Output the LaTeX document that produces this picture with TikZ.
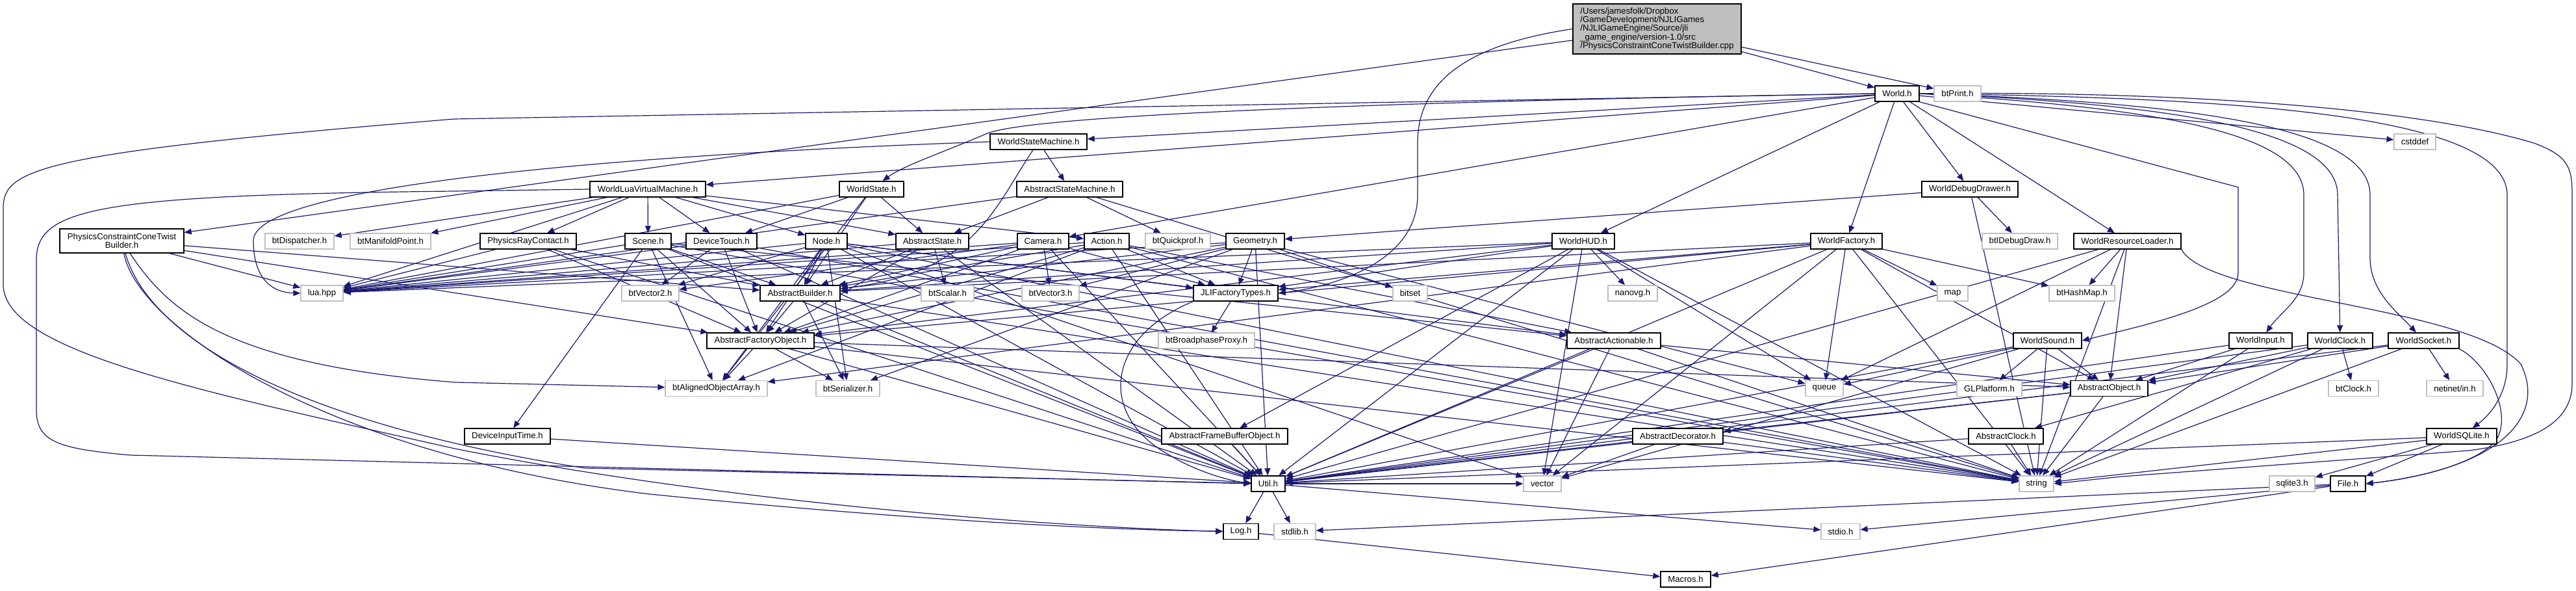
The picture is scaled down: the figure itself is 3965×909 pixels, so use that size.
\documentclass[tikz,border=0pt]{standalone}
\usepackage{fontspec}
\setmainfont{Liberation Sans}
\usetikzlibrary{arrows.meta}
\pgfdeclarelayer{background}
\pgfsetlayers{background,main}
\definecolor{edgec}{RGB}{25,25,112}
\definecolor{greyb}{RGB}{191,191,191}
\tikzset{
 nodebox/.style={rectangle, inner sep=0pt, minimum height=24pt, font=\fontsize{13.2}{13.4}\selectfont, fill=white, text=black},
 nb/.style={nodebox, draw=black, line width=1.4pt},
 ng/.style={nodebox, draw=greyb, line width=1.2pt},
 bw/.style={minimum width=#1pt},
 link/.style={draw=edgec, line width=1.2pt, -{Triangle[length=11pt,width=9pt]}}
}
\begin{document}
\begin{tikzpicture}[x=1pt,y=-1pt]
\useasboundingbox (0,0) rectangle (3965,909);
\node[nb,fill=greyb,bw=259,minimum height=77pt,align=left] (root) at (2550.5,44.5) {/Users/jamesfolk/Dropbox\\/GameDevelopment/NJLIGames\\/NJLIGameEngine/Source/jli\\\_game\_engine/version-1.0/src\\/PhysicsConstraintConeTwistBuilder.cpp};
\node[nb,bw=68] (world) at (2920,144) {World.h};
\node[ng,bw=72] (btprint) at (3013,144) {btPrint.h};
\node[nb,bw=149] (wsm) at (1598.5,218) {WorldStateMachine.h};
\node[ng,bw=64] (cstddef) at (3717,218) {cstddef};
\node[nb,bw=178] (wlvm) at (997,291) {WorldLuaVirtualMachine.h};
\node[nb,bw=99] (wstate) at (1341.5,291) {WorldState.h};
\node[nb,bw=163] (asm) at (1646.5,291) {AbstractStateMachine.h};
\node[nb,bw=148] (wdd) at (3032,291) {WorldDebugDrawer.h};
\node[nb,bw=191,minimum height=37pt,align=center] (pcctb) at (187.5,370.5) {PhysicsConstraintConeTwist\\Builder.h};
\node[ng,bw=106] (btdisp) at (461,371) {btDispatcher.h};
\node[ng,bw=124] (btmani) at (601,371) {btManifoldPoint.h};
\node[nb,bw=148] (prc) at (813,371) {PhysicsRayContact.h};
\node[nb,bw=71] (scene) at (997.5,371) {Scene.h};
\node[nb,bw=109] (dtouch) at (1110.5,371) {DeviceTouch.h};
\node[nb,bw=64] (nodeh) at (1272,371) {Node.h};
\node[nb,bw=112] (astate) at (1435,371) {AbstractState.h};
\node[nb,bw=79] (camera) at (1605.5,371) {Camera.h};
\node[nb,bw=69] (action) at (1703.5,371) {Action.h};
\node[ng,bw=100] (btquick) at (1813,371) {btQuickprof.h};
\node[nb,bw=90] (geom) at (1932,371) {Geometry.h};
\node[nb,bw=96] (whud) at (2437,371) {WorldHUD.h};
\node[nb,bw=110] (wfact) at (2842,371) {WorldFactory.h};
\node[ng,bw=116] (btidd) at (3109,371) {btIDebugDraw.h};
\node[nb,bw=165] (wrl) at (3274.5,371) {WorldResourceLoader.h};
\node[ng,bw=65] (lua) at (495.5,451) {lua.hpp};
\node[ng,bw=88] (btv2) at (1001,451) {btVector2.h};
\node[nb,bw=123] (abuild) at (1231.5,451) {AbstractBuilder.h};
\node[ng,bw=81] (btscalar) at (1458.5,451) {btScalar.h};
\node[ng,bw=88] (btv3) at (1617,451) {btVector3.h};
\node[nb,bw=130] (jli) at (1902,451) {JLIFactoryTypes.h};
\node[ng,bw=53] (bitset) at (2170.5,451) {bitset};
\node[ng,bw=76] (nanovg) at (2513,451) {nanovg.h};
\node[ng,bw=47] (map) at (3005.5,451) {map};
\node[ng,bw=101] (bthash) at (3204.5,451) {btHashMap.h};
\node[nb,bw=165] (afo) at (1170.5,524) {AbstractFactoryObject.h};
\node[ng,bw=148] (btbroad) at (1857,524) {btBroadphaseProxy.h};
\node[nb,bw=144] (aact) at (2484,524) {AbstractActionable.h};
\node[nb,bw=105] (wsound) at (3151.5,524) {WorldSound.h};
\node[nb,bw=97] (winput) at (3479.5,524) {WorldInput.h};
\node[nb,bw=100] (wclock) at (3602,524) {WorldClock.h};
\node[nb,bw=109] (wsocket) at (3730.5,524) {WorldSocket.h};
\node[ng,bw=157] (btaoa) at (1102.5,597.5) {btAlignedObjectArray.h};
\node[ng,bw=98] (btser) at (1305,597.5) {btSerializer.h};
\node[ng,bw=58] (queue) at (2808,597.5) {queue};
\node[ng,bw=100] (glplat) at (3062,597.5) {GLPlatform.h};
\node[nb,bw=119] (aobj) at (3246.5,597.5) {AbstractObject.h};
\node[ng,bw=77] (btclock) at (3622.5,597.5) {btClock.h};
\node[ng,bw=87] (netinet) at (3778.5,597.5) {netinet/in.h};
\node[nb,bw=132] (dit) at (781,671) {DeviceInputTime.h};
\node[nb,bw=194] (afbo) at (1885,671) {AbstractFrameBufferObject.h};
\node[nb,bw=139] (adec) at (2582.5,671) {AbstractDecorator.h};
\node[nb,bw=115] (aclock) at (3087.5,671) {AbstractClock.h};
\node[nb,bw=108] (wsql) at (3789,671) {WorldSQLite.h};
\node[nb,bw=52] (util) at (1952,744) {Util.h};
\node[ng,bw=58] (vector) at (2374,744) {vector};
\node[ng,bw=53] (string) at (3134.5,744) {string};
\node[ng,bw=70] (sqlite) at (3528,744) {sqlite3.h};
\node[nb,bw=54] (file) at (3614,744) {File.h};
\node[nb,bw=54] (log) at (1910,817.5) {Log.h};
\node[ng,bw=64] (stdlib) at (1993,817.5) {stdlib.h};
\node[ng,bw=60] (stdio) at (2833,817.5) {stdio.h};
\node[nb,bw=77] (macros) at (2594.5,891) {Macros.h};
\begin{pgfonlayer}{background}
\foreach \s/\t in {root/world, root/btprint, root/pcctb,
 world/wsm, world/cstddef, world/wlvm, world/camera, world/whud, world/wfact, world/wdd, world/wrl,
 wlvm/btdisp, wlvm/btmani, wlvm/lua, wlvm/prc, wlvm/scene, wlvm/dtouch, wlvm/nodeh, wlvm/astate, wlvm/action,
 wsm/asm,
 wstate/dtouch, wstate/astate, wstate/abuild, wstate/lua, wstate/btaoa,
 asm/astate, asm/btquick, asm/lua, asm/string,
 wdd/btidd, wdd/geom, wdd/string,
 prc/lua, prc/abuild, prc/afo, prc/util,
 scene/lua, scene/abuild, scene/afo, scene/btaoa, scene/dit, scene/util, scene/string, scene/aact,
 dtouch/btv2, dtouch/lua, dtouch/afo, dtouch/util, dtouch/string,
 nodeh/lua, nodeh/abuild, nodeh/afo, nodeh/btv2, nodeh/aact, nodeh/jli, nodeh/vector, nodeh/btaoa, nodeh/util, nodeh/string, nodeh/btser,
 astate/lua, astate/abuild, astate/afo, astate/btscalar, astate/util,
 camera/lua, camera/abuild, camera/afo, camera/btv3, camera/jli, camera/btv2, camera/util,
 action/lua, action/abuild, action/afo, action/jli, action/btaoa, action/util, action/string, action/aact,
 geom/lua, geom/abuild, geom/afo, geom/btv3, geom/jli, geom/bitset, geom/btser, geom/util, geom/queue,
 whud/lua, whud/abuild, whud/jli, whud/nanovg, whud/afbo, whud/util, whud/vector, whud/string, whud/queue, whud/afo,
 wfact/abuild, wfact/afo, wfact/jli, wfact/map, wfact/bthash, wfact/queue, wfact/util, wfact/vector, wfact/string, wfact/btaoa, wfact/aobj,
 wrl/bthash, wrl/aobj, wrl/string, wrl/util, wrl/queue,
 abuild/afo, abuild/btser, abuild/util, abuild/string,
 afo/btaoa, afo/btser, afo/util, afo/string, afo/aobj,
 jli/btbroad,
 aact/util, aact/vector, aact/string, aact/aobj,
 afbo/util, dit/util,
 wsound/queue, wsound/glplat, wsound/aobj, wsound/string, wsound/util, wsound/vector,
 winput/aobj, winput/string, winput/util,
 wclock/aobj, wclock/btclock, wclock/aclock, wclock/string, wclock/util,
 wsocket/aobj, wsocket/netinet, wsocket/string, wsocket/util,
 wsql/sqlite, wsql/file, wsql/util, wsql/string,
 aobj/adec, aobj/util, aobj/string,
 adec/util, adec/vector, adec/string,
 aclock/util, aclock/string,
 util/log, util/stdlib, util/vector, util/stdio,
 log/macros,
 file/stdio, file/stdlib, file/macros,
 pcctb/lua, pcctb/abuild, pcctb/afo}
 \draw[link] (\s) -- (\t);
% routed edges
\draw[link] (root.west) .. controls (2250,70) and (2182,130) .. (2182,220) -- (2182,300) .. controls (2182,400) and (2060,440) .. (jli.east);
\draw[link] (world.west) -- (700,183) .. controls (60,235) and (5,260) .. (5,320) -- (5,440) .. controls (10,540) and (300,600) .. (700,690) .. controls (1100,770) and (1600,810) .. (log.west);
\draw[link] (wlvm.west) -- (700,294) .. controls (150,300) and (56,320) .. (56,400) -- (56,630) .. controls (56,680) and (90,690) .. (200,700) -- (util.west);
\draw[link] (world.west) .. controls (2200,155) and (1600,175) .. (1520,205) .. controls (1450,235) and (1390,255) .. (wstate);
\draw[link] (wsm) .. controls (1530,320) and (1500,420) .. (abuild);
\draw[link] (wsm.west) .. controls (900,240) and (390,290) .. (390,370) .. controls (390,430) and (420,450) .. (lua.west);
\draw[link] (world.east) .. controls (3300,140) and (3700,160) .. (3900,220) .. controls (3955,240) and (3959,260) .. (3959,300) -- (3959,590) .. controls (3959,650) and (3900,680) .. (3800,693) -- (3265,733) -- (string.east);
\draw[link] (world.east) .. controls (3400,150) and (3859,170) .. (3859,300) -- (3859,560) .. controls (3859,610) and (3830,640) .. (wsql);
\draw[link] (world.east) .. controls (3300,165) and (3546,200) .. (3546,300) -- (3546,420) .. controls (3546,460) and (3510,480) .. (winput);
\draw[link] (world.east) .. controls (3350,160) and (3598,200) .. (3598,300) -- (wclock);
\draw[link] (world.east) .. controls (3400,158) and (3648,200) .. (3648,300) -- (3648,400) .. controls (3650,450) and (3690,480) .. (wsocket);
\draw[link] (world.south east) -- (3445,288) -- (3445,420) .. controls (3445,470) and (3300,500) .. (wsound.east);
\draw[link] (wrl.south east) .. controls (3400,460) and (3800,470) .. (3880,560) .. controls (3920,640) and (3850,720) .. (file.east);
\draw[link] (wsocket.south east) .. controls (3830,560) and (3870,640) .. (3840,680) .. controls (3800,720) and (3700,738) .. (file.east);
\draw[link] (jli.south west) .. controls (1700,520) and (1690,640) .. (1800,700) .. controls (1850,730) and (1900,740) .. (util.west);
\draw[link] (pcctb) .. controls (210,500) and (500,700) .. (1000,760) .. controls (1400,800) and (1700,815) .. (log);
\draw[link] (pcctb) .. controls (230,520) and (450,650) .. (900,720) -- (util);
\draw[link] (pcctb) .. controls (260,480) and (350,560) .. (700,588) -- (btaoa);
\end{pgfonlayer}
\end{tikzpicture}
\end{document}
